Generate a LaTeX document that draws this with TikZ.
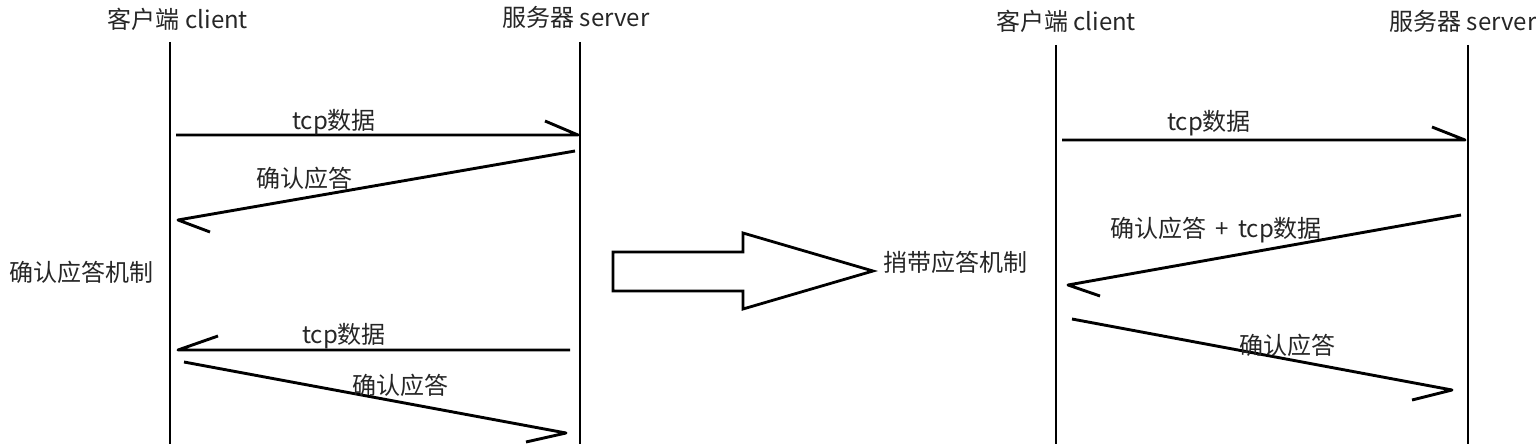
\documentclass[tikz,border=0pt]{standalone}
\usepackage{fontspec}
\setmainfont{Noto Sans CJK SC}
\begin{document}
\begin{tikzpicture}[x=0.5pt,y=-0.5pt,
  life/.style={line width=1.25pt,black},
  msg/.style={line width=1.45pt,black,line join=round},
  lbl/.style={font=\fontsize{12}{14}\selectfont,text=black!85,inner sep=0pt,anchor=base},
  bigarrow/.style={line width=1.4pt,black,fill=white}]
\useasboundingbox (0,0) rectangle (1536,444);
% ---------- left diagram ----------
\node[lbl] (lc) at (178,29) {客户端 client};
\node[lbl] (ls) at (576,27) {服务器 server};
\coordinate (lct) at (170,42); \coordinate (lcb) at (170,446);
\coordinate (lst) at (580,42); \coordinate (lsb) at (580,446);
\draw[life] (lct) -- (lcb);
\draw[life] (lst) -- (lsb);
\node[lbl] (mech1) at (82,281) {确认应答机制};
% msg 1
\coordinate (a1s) at (176,135); \coordinate (a1e) at (578,135); \coordinate (a1h) at (545,121);
\draw[msg] (a1s) -- (a1e) -- (a1h);
\node[lbl] (t1) at (334,129) {tcp数据};
% msg 2
\coordinate (a2s) at (575,151); \coordinate (a2e) at (178,220); \coordinate (a2h) at (210,232);
\draw[msg] (a2s) -- (a2e) -- (a2h);
\node[lbl] (t2) at (304,187) {确认应答};
% msg 3
\coordinate (a3s) at (570,350); \coordinate (a3e) at (178,350); \coordinate (a3h) at (218,336);
\draw[msg] (a3s) -- (a3e) -- (a3h);
\node[lbl] (t3) at (344,343) {tcp数据};
% msg 4
\coordinate (a4s) at (184,362); \coordinate (a4e) at (566,433); \coordinate (a4h) at (526,442);
\draw[msg] (a4s) -- (a4e) -- (a4h);
\node[lbl] (t4) at (400,394) {确认应答};
% ---------- big arrow ----------
\draw[bigarrow] (613,252) -- (743,252) -- (743,233) -- (873,271) -- (743,309) -- (743,291) -- (613,291) -- cycle;
\node[lbl] (mech2) at (955,271) {捎带应答机制};
% ---------- right diagram ----------
\node[lbl] (rc) at (1066,31) {客户端 client};
\node[lbl] (rs) at (1463,31) {服务器 server};
\coordinate (rct) at (1056,45); \coordinate (rcb) at (1056,446);
\coordinate (rst) at (1468,45); \coordinate (rsb) at (1468,446);
\draw[life] (rct) -- (rcb);
\draw[life] (rst) -- (rsb);
% msg 1
\coordinate (b1s) at (1062,140); \coordinate (b1e) at (1465,140); \coordinate (b1h) at (1432,127);
\draw[msg] (b1s) -- (b1e) -- (b1h);
\node[lbl] (u1) at (1209,131) {tcp数据};
% msg 2
\coordinate (b2s) at (1461,215); \coordinate (b2e) at (1068,285); \coordinate (b2h) at (1100,296);
\draw[msg] (b2s) -- (b2e) -- (b2h);
\node[lbl] (u2) at (1216,237) {确认应答 \,+\, tcp数据};
% msg 3
\coordinate (b3s) at (1072,319); \coordinate (b3e) at (1452,390); \coordinate (b3h) at (1412,400);
\draw[msg] (b3s) -- (b3e) -- (b3h);
\node[lbl] (u3) at (1287,354) {确认应答};
\end{tikzpicture}
\end{document}
